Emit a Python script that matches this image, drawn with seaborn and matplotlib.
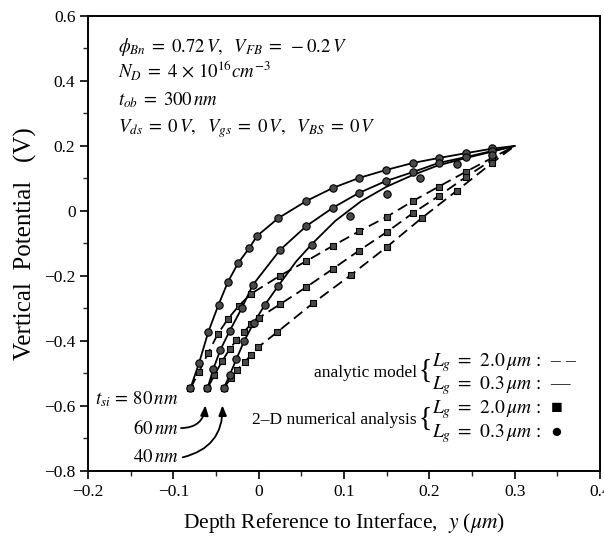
import matplotlib
matplotlib.use("Agg")
import matplotlib.pyplot as plt
import numpy as np
import pandas as pd
import seaborn as sns
from matplotlib.ticker import MultipleLocator, FuncFormatter

# ---------------- data ----------------
# 2-D numerical analysis, Lg = 0.3 um (circles)
num03_80_x = [-0.080, -0.070, -0.059, -0.047, -0.036, -0.024, -0.011, -0.002, 0.023, 0.056, 0.087, 0.118, 0.149, 0.181, 0.211, 0.243, 0.274]
num03_80_y = [-0.546, -0.469, -0.372, -0.288, -0.218, -0.160, -0.114, -0.077, -0.022, 0.031, 0.071, 0.102, 0.126, 0.148, 0.163, 0.178, 0.194]
num03_60_x = [-0.060, -0.053, -0.045, -0.034, -0.020, -0.007, 0.025, 0.056, 0.087, 0.117, 0.149, 0.181, 0.211, 0.243, 0.274]
num03_60_y = [-0.546, -0.485, -0.428, -0.369, -0.300, -0.228, -0.120, -0.046, 0.010, 0.055, 0.092, 0.120, 0.148, 0.166, 0.185]
num03_40_x = [-0.041, -0.034, -0.026, -0.017, -0.006, 0.007, 0.023, 0.063, 0.107, 0.150, 0.189, 0.232, 0.274]
num03_40_y = [-0.546, -0.505, -0.455, -0.400, -0.345, -0.290, -0.230, -0.105, -0.015, 0.051, 0.100, 0.145, 0.172]

# 2-D numerical analysis, Lg = 2.0 um (squares)
num20_80_x = [-0.080, -0.070, -0.059, -0.048, -0.036, -0.023, -0.009, 0.025, 0.056, 0.087, 0.118, 0.150, 0.181, 0.211, 0.243, 0.274]
num20_80_y = [-0.546, -0.495, -0.436, -0.379, -0.332, -0.291, -0.255, -0.199, -0.154, -0.107, -0.062, -0.018, 0.031, 0.075, 0.121, 0.164]
num20_60_x = [-0.060, -0.052, -0.043, -0.034, -0.026, -0.017, -0.009, 0.000, 0.025, 0.056, 0.087, 0.117, 0.150, 0.181, 0.211, 0.243, 0.274]
num20_60_y = [-0.546, -0.505, -0.463, -0.425, -0.397, -0.371, -0.348, -0.329, -0.287, -0.234, -0.178, -0.123, -0.065, -0.006, 0.046, 0.105, 0.158]
num20_40_x = [-0.041, -0.033, -0.025, -0.016, -0.009, -0.001, 0.022, 0.064, 0.108, 0.150, 0.191, 0.232, 0.274]
num20_40_y = [-0.546, -0.515, -0.488, -0.464, -0.443, -0.420, -0.372, -0.283, -0.197, -0.111, -0.022, 0.062, 0.149]

# analytic model curves
an03_80_x = [-0.080, -0.070, -0.059, -0.047, -0.036, -0.024, -0.011, -0.002, 0.023, 0.056, 0.087, 0.118, 0.149, 0.181, 0.211, 0.243, 0.274, 0.300]
an03_80_y = [-0.546, -0.469, -0.372, -0.288, -0.218, -0.160, -0.114, -0.077, -0.022, 0.031, 0.071, 0.102, 0.126, 0.148, 0.163, 0.178, 0.192, 0.200]
an03_60_x = [-0.060, -0.053, -0.045, -0.034, -0.020, -0.007, 0.025, 0.056, 0.087, 0.117, 0.149, 0.181, 0.211, 0.243, 0.274, 0.300]
an03_60_y = [-0.546, -0.485, -0.428, -0.369, -0.300, -0.228, -0.120, -0.046, 0.010, 0.055, 0.092, 0.120, 0.148, 0.166, 0.185, 0.200]
an03_40_x = [-0.041, -0.034, -0.026, -0.017, -0.006, 0.007, 0.023, 0.044, 0.063, 0.090, 0.120, 0.150, 0.180, 0.210, 0.243, 0.274, 0.300]
an03_40_y = [-0.546, -0.505, -0.455, -0.400, -0.345, -0.290, -0.230, -0.155, -0.100, -0.030, 0.030, 0.075, 0.110, 0.140, 0.163, 0.183, 0.200]
an20_80_x = [-0.080, -0.070, -0.059, -0.048, -0.036, -0.023, -0.009, 0.025, 0.056, 0.087, 0.118, 0.150, 0.181, 0.211, 0.243, 0.274, 0.300]
an20_80_y = [-0.546, -0.495, -0.436, -0.379, -0.332, -0.291, -0.255, -0.199, -0.154, -0.107, -0.062, -0.018, 0.031, 0.075, 0.121, 0.164, 0.200]
an20_60_x = [-0.060, -0.052, -0.043, -0.034, -0.026, -0.017, -0.009, 0.000, 0.025, 0.056, 0.087, 0.117, 0.150, 0.181, 0.211, 0.243, 0.274, 0.300]
an20_60_y = [-0.546, -0.505, -0.463, -0.425, -0.397, -0.371, -0.348, -0.329, -0.287, -0.234, -0.178, -0.123, -0.065, -0.006, 0.046, 0.105, 0.158, 0.200]
an20_40_x = [-0.041, -0.033, -0.025, -0.016, -0.009, -0.001, 0.022, 0.064, 0.108, 0.150, 0.191, 0.232, 0.274, 0.300]
an20_40_y = [-0.546, -0.515, -0.488, -0.464, -0.443, -0.420, -0.372, -0.283, -0.197, -0.111, -0.022, 0.062, 0.149, 0.200]

x_ticks = [-0.2, -0.1, 0.0, 0.1, 0.2, 0.3, 0.4]
y_ticks = [-0.8, -0.6, -0.4, -0.2, 0.0, 0.2, 0.4, 0.6]

# ---------------- style ----------------
sns.set_theme(style="ticks")
plt.rcParams["font.family"] = ["Liberation Serif", "DejaVu Sans"]
plt.rcParams["mathtext.fontset"] = "stix"
plt.rcParams["axes.unicode_minus"] = True
plt.rcParams["text.color"] = "black"
plt.rcParams["axes.labelcolor"] = "black"

fig = plt.figure(figsize=(6.04, 5.39), dpi=100)
ax = fig.add_axes([88 / 604, (539 - 471) / 539, 512 / 604, 455 / 539])

dash = (0, (6, 3.2))
for xs, ys in [(an20_80_x, an20_80_y), (an20_60_x, an20_60_y), (an20_40_x, an20_40_y)]:
    sns.lineplot(x=xs, y=ys, ax=ax, color="black", sort=False, estimator=None,
                 linewidth=1.3, linestyle=dash)
for xs, ys in [(an03_80_x, an03_80_y), (an03_60_x, an03_60_y), (an03_40_x, an03_40_y)]:
    sns.lineplot(x=xs, y=ys, ax=ax, color="black", sort=False, estimator=None,
                 linewidth=1.3)
for xs, ys in [(num20_80_x, num20_80_y), (num20_60_x, num20_60_y), (num20_40_x, num20_40_y)]:
    sns.scatterplot(x=xs, y=ys, ax=ax, marker="s", s=22, color="#4a4a4a",
                    edgecolor="black", linewidth=0.8, zorder=3)
for xs, ys in [(num03_80_x, num03_80_y), (num03_60_x, num03_60_y), (num03_40_x, num03_40_y)]:
    sns.scatterplot(x=xs, y=ys, ax=ax, marker="o", s=28, color="#4a4a4a",
                    edgecolor="black", linewidth=0.8, zorder=3)

ax.set_xlim(-0.2, 0.4)
ax.set_ylim(-0.8, 0.6)
ax.set_xticks(x_ticks)
ax.set_yticks(y_ticks)
ax.xaxis.set_minor_locator(MultipleLocator(0.05))
ax.yaxis.set_minor_locator(MultipleLocator(0.1))


def fmt(v, pos):
    if abs(v) < 1e-9:
        return "0"
    return f"{v:.1f}".replace("-", "\u2212")


ax.xaxis.set_major_formatter(FuncFormatter(fmt))
ax.yaxis.set_major_formatter(FuncFormatter(fmt))
ax.tick_params(axis="both", which="major", direction="out", length=6, width=1.2,
               labelsize=12.5, colors="black", pad=3)
ax.tick_params(axis="both", which="minor", direction="out", length=3.5, width=1.0)
for sp in ax.spines.values():
    sp.set_visible(True)
    sp.set_linewidth(1.4)
    sp.set_color("black")

ax.set_xlabel(r"Depth Reference to Interface,  $y$ ($\mu m$)", fontsize=15.5, labelpad=8)
ax.set_ylabel("Vertical  Potential   (V)", fontsize=18, labelpad=5)

# parameter block
tk = dict(transform=ax.transAxes, fontsize=13.5, ha="left", va="baseline", color="black")
ax.text(0.058, 0.921, r"$\phi_{Bn}\;=\;0.72\,V,\ \ V_{FB}\;=\;-0.2\,V$", **tk)
ax.text(0.058, 0.862, r"$N_D\;=\;4\,\times\,10^{16}cm^{-3}$", **tk)
ax.text(0.058, 0.804, r"$t_{ob}\;=\;300\,nm$", **tk)
ax.text(0.058, 0.745, r"$V_{ds}\;=\;0\,V,\ \ V_{gs}\;=\;0\,V,\ \ V_{BS}\;=\;0\,V$", **tk)

# legend-like text block
lk = dict(transform=ax.transAxes, fontsize=14, va="baseline", color="black")
hk = dict(transform=ax.transAxes, fontsize=12.5, va="baseline", ha="right", color="black")
ax.text(0.642, 0.207, "analytic model", **hk)
ax.text(0.646, 0.218, "{", ha="left", va="center", transform=ax.transAxes, fontsize=20, color="black")
ax.text(0.672, 0.231, "$L_g\\;=\\;\\,2.0\\,\\mu m$ :  \u2013 \u2013", ha="left", **lk)
ax.text(0.672, 0.180, "$L_g\\;=\\;\\,0.3\\,\\mu m$ :  \u2014", ha="left", **lk)
ax.text(0.642, 0.103, "2\u2013D numerical analysis", **hk)
ax.text(0.646, 0.114, "{", ha="left", va="center", transform=ax.transAxes, fontsize=20, color="black")
ax.text(0.672, 0.127, "$L_g\\;=\\;\\,2.0\\,\\mu m$ :  \u25a0", ha="left", **lk)
ax.text(0.672, 0.075, "$L_g\\;=\\;\\,0.3\\,\\mu m$ :  \u25cf", ha="left", **lk)

# t_si labels and arrows
ax.text(-0.094, -0.578, r"$t_{si}\,=\,80\,nm$", ha="right", va="center", fontsize=13.5)
ax.text(-0.094, -0.668, r"$60\,nm$", ha="right", va="center", fontsize=13.5)
ax.text(-0.094, -0.758, r"$40\,nm$", ha="right", va="center", fontsize=13.5)
ax.annotate("", xy=(-0.0625, -0.598), xytext=(-0.091, -0.668),
            arrowprops=dict(arrowstyle="-|>,head_length=0.5,head_width=0.2", color="black",
                            lw=1.3, connectionstyle="arc3,rad=0.45", shrinkA=0, shrinkB=0))
ax.annotate("", xy=(-0.0425, -0.598), xytext=(-0.089, -0.758),
            arrowprops=dict(arrowstyle="-|>,head_length=0.5,head_width=0.2", color="black",
                            lw=1.3, connectionstyle="arc3,rad=0.4", shrinkA=0, shrinkB=0))

fig.savefig("out.png", dpi=100, facecolor="white")
